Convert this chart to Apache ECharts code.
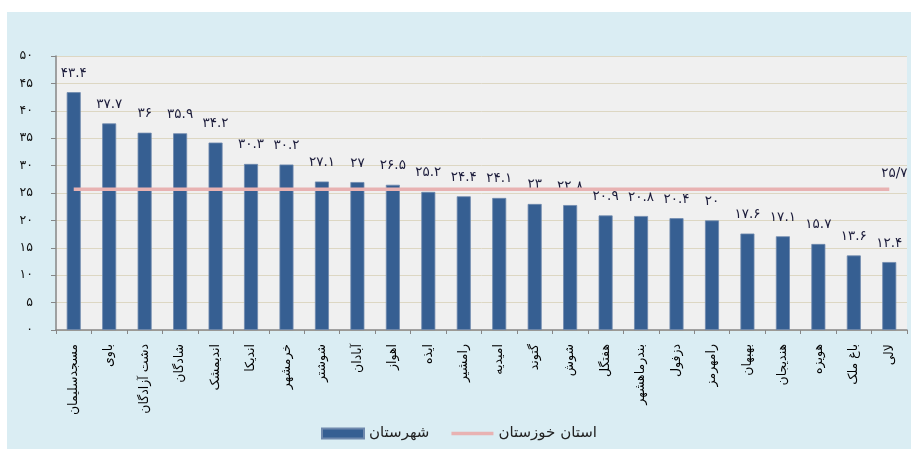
<!DOCTYPE html>
<html>
<head>
<meta charset="utf-8">
<script src="https://cdn.jsdelivr.net/npm/echarts@6/dist/echarts.min.js"></script>
<style>
html,body{margin:0;padding:0;background:#ffffff;width:911px;height:449px;overflow:hidden;}
#chart{position:absolute;left:7px;top:12px;width:904px;height:437px;background:#daedf3;}
</style>
</head>
<body>
<div id="chart"></div>
<script>
const categories = ['مسجدسلیمان','باوی','دشت آزادگان','شادگان','اندیمشک','اندیکا','خرمشهر','شوشتر','آبادان','اهواز','ایذه','رامشیر','امیدیه','گتوند','شوش','هفتگل','بندرماهشهر','دزفول','رامهرمز','بهبهان','هندیجان','هویزه','باغ ملک','لالی'];
const countyValues = [43.4,37.7,36,35.9,34.2,30.3,30.2,27.1,27,26.5,25.2,24.4,24.1,23,22.8,20.9,20.8,20.4,20,17.6,17.1,15.7,13.6,12.4];
const provinceValues = [25.7,25.7,25.7,25.7,25.7,25.7,25.7,25.7,25.7,25.7,25.7,25.7,25.7,25.7,25.7,25.7,25.7,25.7,25.7,25.7,25.7,25.7,25.7,25.7];
const yTicks = [0,5,10,15,20,25,30,35,40,45,50];
const seriesNames = ['شهرستان','استان خوزستان'];

const fa = s => String(s).replace(/\d/g, d => '۰۱۲۳۴۵۶۷۸۹'[d]);
const FONT = 'DejaVu Sans';

const chart = echarts.init(document.getElementById('chart'), null, {renderer:'canvas'});
chart.setOption({
  animation:false,
  textStyle:{fontFamily:FONT},
  grid:{left:49,top:44,right:4,bottom:119,show:true,backgroundColor:'#f0f0f0',borderWidth:0},
  legend:{
    left:309, top:409, itemWidth:42, itemHeight:10, itemGap:22,
    textStyle:{fontFamily:FONT,fontSize:15,color:'#222'},
    data:[{name:seriesNames[0],icon:'rect'},{name:seriesNames[1],icon:'path://M0,0H42V3.5H0Z'}]
  },
  xAxis:{
    type:'category', data:categories, boundaryGap:true,
    axisLine:{lineStyle:{color:'#868686',width:1.5}},
    axisTick:{show:true,length:4,alignWithLabel:false,lineStyle:{color:'#868686'}},
    axisLabel:{rotate:90,margin:14,interval:0,fontFamily:FONT,fontSize:12.5,color:'#000'}
  },
  yAxis:{
    type:'value', min:yTicks[0], max:yTicks[yTicks.length-1], interval:5,
    axisLine:{show:true,lineStyle:{color:'#868686',width:1.5}},
    axisTick:{show:true,length:5,inside:false,lineStyle:{color:'#868686'}},
    splitLine:{lineStyle:{color:'#ddd7c3',width:1}},
    axisLabel:{margin:23,fontFamily:FONT,fontSize:12.5,color:'#111',formatter:v=>fa(v)}
  },
  series:[
    {
      name:seriesNames[0], type:'bar', data:countyValues, barWidth:14,
      itemStyle:{color:'#365f92',borderColor:'#6f89ad',borderWidth:0.8},
      label:{show:true,position:'top',distance:12,fontFamily:FONT,fontSize:13.5,color:'#1b1b3a',formatter:p=>fa(p.value)},
      z:2
    },
    {
      name:seriesNames[1], type:'line', symbol:'none', showSymbol:false,
      data:provinceValues,
      lineStyle:{color:'#e8b2b2',width:3.5},
      itemStyle:{color:'#e8b2b2'},
      endLabel:{show:true,offset:[-16,-16],fontFamily:FONT,fontSize:13.5,color:'#1b1b3a',formatter:p=>fa(p.value).replace('.','/')},
      z:3
    }
  ]
});
</script>
</body>
</html>
